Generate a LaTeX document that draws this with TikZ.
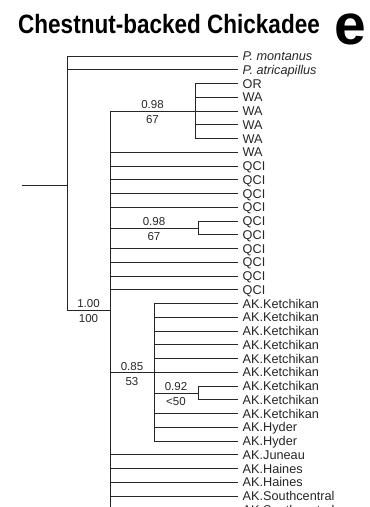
\documentclass[tikz,border=0pt]{standalone}
\usepackage{fontspec}
\setmainfont{Liberation Sans}
\usepackage{graphicx}
\usepackage{tikz}
\usetikzlibrary{positioning}

\tikzset{
  branch/.style={draw=black!85, line width=0.8pt},
  vh/.style={to path={|- (\tikztotarget) \tikztonodes}},
  leaf/.style={anchor=west, inner xsep=4.5pt, inner ysep=0pt, text height=9pt, text depth=0pt,
    text=black!85, font=\fontsize{12.7}{13}\selectfont},
  support/.style={inner sep=1pt, text=black!85, font=\fontsize{11.5}{12}\selectfont},
  up/.style={support, above=0.5pt, pos=.75},
  down/.style={support, below=3.5pt, pos=.75},
}

\begin{document}
\begin{tikzpicture}[x=1pt,y=-1pt]
\useasboundingbox (0,0) rectangle (370,507);
\node[anchor=base west, inner sep=0pt, font=\fontsize{26.5}{30}\selectfont\bfseries] (title) at (18,33)
  {\scalebox{0.85}[1]{Chestnut-backed Chickadee}};
\node[anchor=base, inner sep=0pt, font=\fontsize{57}{57}\selectfont\bfseries] (panel) at (350,44) {e};

% leaves
\node[leaf] (pmon) at (238,56)     {\textit{P. montanus}};
\node[leaf] (patr) at (238,69.75)  {\textit{P. atricapillus}};
\node[leaf] (or1)  at (238,83.5)   {OR};
\node[leaf] (wa1)  at (238,97.25)  {WA};
\node[leaf] (wa2)  at (238,111)    {WA};
\node[leaf] (wa3)  at (238,124.75) {WA};
\node[leaf] (wa4)  at (238,138.5)  {WA};
\node[leaf] (wa5)  at (238,152.25) {WA};
\node[leaf] (qci1) at (238,166)    {QCI};
\node[leaf] (qci2) at (238,179.75) {QCI};
\node[leaf] (qci3) at (238,193.5)  {QCI};
\node[leaf] (qci4) at (238,207.25) {QCI};
\node[leaf] (qci5) at (238,221)    {QCI};
\node[leaf] (qci6) at (238,234.75) {QCI};
\node[leaf] (qci7) at (238,248.5)  {QCI};
\node[leaf] (qci8) at (238,262.25) {QCI};
\node[leaf] (qci9) at (238,276)    {QCI};
\node[leaf] (qci10) at (238,289.75) {QCI};
\node[leaf] (ket1) at (238,303.5)  {AK.Ketchikan};
\node[leaf] (ket2) at (238,317.25) {AK.Ketchikan};
\node[leaf] (ket3) at (238,331)    {AK.Ketchikan};
\node[leaf] (ket4) at (238,344.75) {AK.Ketchikan};
\node[leaf] (ket5) at (238,358.5)  {AK.Ketchikan};
\node[leaf] (ket6) at (238,372.25) {AK.Ketchikan};
\node[leaf] (ket7) at (238,386)    {AK.Ketchikan};
\node[leaf] (ket8) at (238,399.75) {AK.Ketchikan};
\node[leaf] (ket9) at (238,413.5)  {AK.Ketchikan};
\node[leaf] (hyd1) at (238,427.25) {AK.Hyder};
\node[leaf] (hyd2) at (238,441)    {AK.Hyder};
\node[leaf] (jun)  at (238,454.75) {AK.Juneau};
\node[leaf] (hai1) at (238,468.5)  {AK.Haines};
\node[leaf] (hai2) at (238,482.25) {AK.Haines};
\node[leaf] (sc1)  at (238,496)    {AK.Southcentral};
\node[leaf] (sc2)  at (238,509.75) {AK.Southcentral};

% inner nodes
\coordinate (stem) at (22,185);
\coordinate (root) at (67,185);
\coordinate (n100) at (110,310);
\coordinate (nWA)  at (195,111);
\coordinate (nQCI) at (198,227.9);
\coordinate (n85)  at (154,372.25);
\coordinate (n92)  at (198,392.9);

\path[branch]
  (stem) edge (root)
  (root) edge[vh] (pmon)
  (root) edge[vh] (patr)
  (root) edge[vh] node[up]{1.00} node[down]{100} (n100)
  (n100) edge[vh] node[up]{0.98} node[down]{67} (nWA)
  (nWA) edge[vh] (or1)  (nWA) edge[vh] (wa1)  (nWA) edge[vh] (wa2)
  (nWA) edge[vh] (wa3)  (nWA) edge[vh] (wa4)
  (n100) edge[vh] (wa5)
  (n100) edge[vh] (qci1) (n100) edge[vh] (qci2)
  (n100) edge[vh] (qci3) (n100) edge[vh] (qci4)
  (n100) edge[vh] node[up]{0.98} node[down]{67} (nQCI)
  (nQCI) edge[vh] (qci5) (nQCI) edge[vh] (qci6)
  (n100) edge[vh] (qci7) (n100) edge[vh] (qci8)
  (n100) edge[vh] (qci9) (n100) edge[vh] (qci10)
  (n100) edge[vh] node[up]{0.85} node[down]{53} (n85)
  (n85) edge[vh] (ket1) (n85) edge[vh] (ket2) (n85) edge[vh] (ket3)
  (n85) edge[vh] (ket4) (n85) edge[vh] (ket5) (n85) edge[vh] (ket6)
  (n85) edge[vh] node[up]{0.92} node[down]{<50} (n92)
  (n92) edge[vh] (ket7) (n92) edge[vh] (ket8)
  (n85) edge[vh] (ket9) (n85) edge[vh] (hyd1) (n85) edge[vh] (hyd2)
  (n100) edge[vh] (jun)
  (n100) edge[vh] (hai1) (n100) edge[vh] (hai2)
  (n100) edge[vh] (sc1) (n100) edge[vh] (sc2);

\end{tikzpicture}
\end{document}
